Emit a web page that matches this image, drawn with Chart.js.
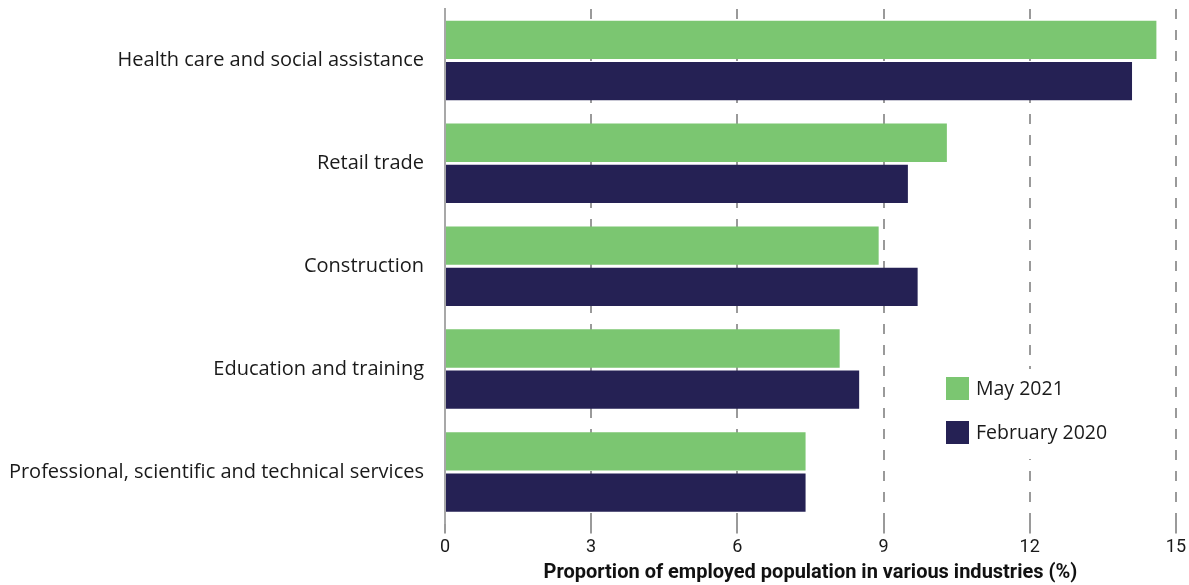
<!DOCTYPE html>
<html>
<head>
<meta charset="utf-8">
<script src="https://cdn.jsdelivr.net/npm/chart.js@4.4.1/dist/chart.umd.min.js"></script>
<style>
  html, body { margin: 0; padding: 0; background: #fff; }
  #wrap { width: 1189px; height: 585px; position: relative; }
</style>
</head>
<body>
<div id="wrap"><canvas id="myChart"></canvas></div>
<script>
// Industrias e proporcao de empregados (%)
const industries = [
    'Health care and social assistance',
    'Retail trade',
    'Construction',
    'Education and training',
    'Professional, scientific and technical services'
];
const may2021 = [14.6, 10.3, 8.9, 8.1, 7.4];
const feb2020 = [14.1, 9.5, 9.7, 8.5, 7.4];
const xTicks = [0, 3, 6, 9, 12, 15];

const GREEN = '#7bc671';
const NAVY = '#252154';
const GRID = '#9a9a9a';

// Legenda desenhada dentro da area do grafico
const insideLegend = {
    id: 'insideLegend',
    afterDraw(chart) {
        const { ctx, chartArea } = chart;
        const x = chartArea.left + 501;
        let y = 377;
        ctx.save();
        ctx.fillStyle = '#fff';
        ctx.fillRect(x - 6, y - 8, 172, 90);
        ctx.font = '19.5px "Open Sans", "Noto Sans", sans-serif';
        ctx.textBaseline = 'middle';
        chart.data.datasets.forEach(ds => {
            ctx.fillStyle = ds.backgroundColor;
            ctx.fillRect(x, y, 23, 23);
            ctx.fillStyle = '#1a1a1a';
            ctx.fillText(ds.label, x + 30, y + 12);
            y += 44;
        });
        ctx.restore();
    }
};

const ctx = document.getElementById('myChart');

new Chart(ctx, {
    type: 'bar',
    data: {
        labels: industries,
        datasets: [
            { label: 'May 2021', data: may2021, backgroundColor: GREEN },
            { label: 'February 2020', data: feb2020, backgroundColor: NAVY }
        ]
    },
    options: {
        indexAxis: 'y',
        responsive: true,
        maintainAspectRatio: false,
        animation: false,
        categoryPercentage: 0.8,
        barPercentage: 0.93,
        layout: { padding: { top: 9, right: 13, left: 0, bottom: 0 } },
        plugins: {
            legend: { display: false },
            tooltip: { enabled: false }
        },
        scales: {
            x: {
                min: 0,
                max: 15,
                afterBuildTicks: scale => {
                    scale.ticks = xTicks.map(v => ({ value: v }));
                },
                grid: {
                    color: c => c.index === 0 ? 'rgba(0,0,0,0)' : GRID,
                    lineWidth: 2,
                    tickColor: GRID,
                    tickLength: 10,
                    drawTicks: true
                },
                border: { display: false, dash: [10, 11] },
                ticks: {
                    color: '#1a1a1a',
                    padding: 3,
                    font: { family: '"Liberation Sans Narrow", Roboto, sans-serif', size: 18 }
                },
                title: {
                    display: true,
                    text: 'Proportion of employed population in various industries (%)',
                    color: '#111',
                    padding: { top: 0, bottom: 0 },
                    font: { family: '"Liberation Sans Narrow", Roboto, sans-serif', size: 20, weight: 'bold' }
                }
            },
            y: {
                afterFit: scale => {
                    scale.width = 445;
                    scale.paddingTop = 0;
                    scale.paddingBottom = 0;
                },
                grid: { display: false, drawTicks: false },
                border: { display: true, color: '#a8a8a8', width: 2 },
                ticks: {
                    color: '#1a1a1a',
                    padding: 21,
                    font: { family: '"Open Sans", "Noto Sans", sans-serif', size: 20 }
                }
            }
        }
    },
    plugins: [insideLegend]
});
</script>
</body>
</html>
